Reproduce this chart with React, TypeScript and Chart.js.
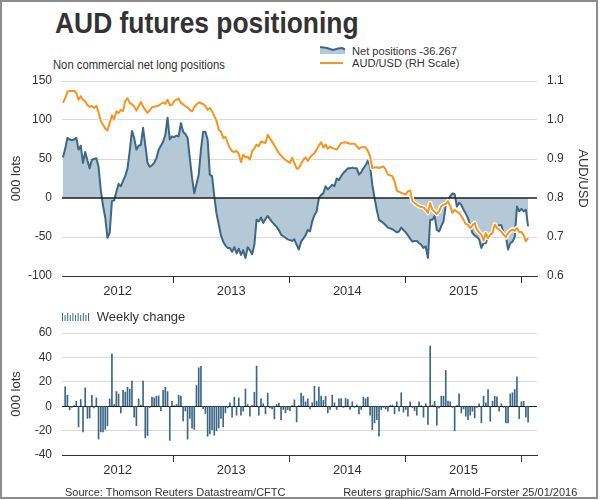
import React, { useEffect, useRef } from 'react';
import { Chart, registerables } from 'chart.js';

Chart.register(...registerables);

const FONT = "'Liberation Sans', Arial, Helvetica, sans-serif";
const TEXT = '#333333';
const NAVY = '#3d6787';
const FILL = '#b5c8d6';
const ORANGE = '#f7941d';
const GRID = '#d9d9d9';

// Non commercial net long positions, 000 lots (weekly, from 20 Jan 2012)
const netPositions = [
  52, 63, 77, 75, 74, 75, 77, 62, 67, 45,
  59, 48, 38, 49, 50, 51, 40, 10, -10, -25,
  -51, -45, -4, -3, 8, 18, 15, 22, 28, 38,
  60, 86, 77, 62, 67, 68, 90, 68, 45, 40,
  42, 45, 51, 62, 67, 72, 81, 103, 75, 79,
  78, 80, 79, 96, 85, 82, 77, 51, 26, 6,
  18, 30, 62, 85, 85, 75, 30, 28, 2, -20,
  -34, -48, -56, -61, -64, -64, -69, -63, -71, -65,
  -73, -67, -77, -63, -67, -72, -60, -28, -30, -25,
  -32, -27, -23, -27, -31, -34, -37, -41, -47, -49,
  -51, -53, -54, -55, -53, -60, -66, -56, -52, -48,
  -41, -43, -30, -22, -17, 0, 4, 6, 15, 11,
  14, 17, 15, 25, 23, 28, 32, 35, 38, 38,
  39, 38, 38, 30, 33, 38, 42, 48, 41, 17,
  0, -15, -28, -30, -32, -35, -38, -39, -40, -42,
  -44, -43, -38, -41, -44, -48, -52, -56, -55, -55,
  -58, -60, -64, -62, -77, -28, -28, -23, -41, -43,
  -36, -30, -9, -3, 2, 6, 5, -11, -6, -9,
  -15, -20, -26, -36, -45, -48, -50, -53, -64, -58,
  -58, -50, -47, -45, -40, -36, -35, -35, -45, -49,
  -66, -58, -56, -50, -11, -17, -14, -17, -15, -36.267,
];

// AUD/USD (RH scale), same weeks
const audUsd = [
  1.044, 1.056, 1.072, 1.075, 1.074, 1.075, 1.069, 1.052, 1.061, 1.052,
  1.048, 1.038, 1.034, 1.036, 1.031, 1.036, 1.020, 0.997, 0.988, 0.978,
  0.973, 0.992, 1.012, 1.001, 1.022, 1.018, 1.026, 1.023, 1.049, 1.056,
  1.044, 1.040, 1.035, 1.024, 1.035, 1.046, 1.035, 1.026, 1.018, 1.025,
  1.033, 1.034, 1.035, 1.037, 1.041, 1.045, 1.041, 1.052, 1.038, 1.039,
  1.049, 1.052, 1.055, 1.044, 1.040, 1.035, 1.033, 1.026, 1.022, 1.033,
  1.040, 1.045, 1.043, 1.041, 1.036, 1.026, 1.031, 1.022, 1.010, 0.998,
  0.975, 0.970, 0.954, 0.957, 0.941, 0.928, 0.920, 0.918, 0.921, 0.913,
  0.892, 0.911, 0.904, 0.906, 0.898, 0.920, 0.927, 0.937, 0.933, 0.945,
  0.943, 0.941, 0.962, 0.953, 0.944, 0.935, 0.925, 0.915, 0.909, 0.902,
  0.898, 0.894, 0.890, 0.903, 0.890, 0.875, 0.877, 0.887, 0.898, 0.904,
  0.895, 0.904, 0.910, 0.915, 0.924, 0.935, 0.943, 0.929, 0.937, 0.926,
  0.932, 0.928, 0.926, 0.924, 0.932, 0.941, 0.942, 0.943, 0.941, 0.939,
  0.939, 0.939, 0.933, 0.926, 0.930, 0.930, 0.930, 0.920, 0.907, 0.877,
  0.878, 0.879, 0.877, 0.879, 0.881, 0.873, 0.860, 0.858, 0.856, 0.843,
  0.819, 0.816, 0.813, 0.811, 0.809, 0.817, 0.819, 0.792, 0.787, 0.783,
  0.779, 0.777, 0.776, 0.770, 0.762, 0.787, 0.770, 0.765, 0.759, 0.766,
  0.779, 0.783, 0.785, 0.792, 0.779, 0.762, 0.770, 0.765, 0.762, 0.753,
  0.744, 0.733, 0.731, 0.723, 0.730, 0.736, 0.719, 0.712, 0.706, 0.691,
  0.710, 0.697, 0.706, 0.710, 0.732, 0.723, 0.719, 0.713, 0.706, 0.699,
  0.710, 0.716, 0.719, 0.716, 0.723, 0.713, 0.713, 0.705, 0.689, 0.697,
];

// Weekly change, 000 lots (from the second week on)
const weeklyChange = [
  16, 9, -3, -1, 0.5, 4, -17, 5.5, -21, 15,
  -10, -9.6, 9, -1.4, 6.8, -27, -21, -21, -19, -16,
  6, 43, 1.4, 12, 10, -5.5, 13, 11.5, 15.6, 14,
  20.5, -9, -16, 6, 1, 20.5, -26, -24, -1, 7.4,
  6.8, 8.2, 8.5, -3.6, 13, 15.6, 12, -28, 4, 0.5,
  1.4, 9, 8.2, -12, -4, -27, -10, -18, -19, 17,
  31.5, 32.6, -2, -6, -24.6, -22.7, -19.2,
  -23.8, -20, -17.8, -10, -17, -5.5, -1.4, 2.7, -9, 7.4,
  -7.4, 6.8, -7.4, -4.1, 14.2, 1.4, -8.2, 0.5, 11.5, 32.9,
  -7.4, 6.3, 2, -6.3, 10.7, -1.4, -2.2, -10.4, 1.4, 2.5,
  -11, -2.7, -5.5, -2.7, -3.6, 0.5, 5.2, -12.9, 0.5, 10.7,
  8.2, 3.6, 6, -2.2, 2.7, 16.4, 4.1, 15.6, 8.2, 4.7,
  8.2, -5.5, -2.7, 9, 2.7, -2.7, 6, 6.3, -1, 6.3,
  5.5, -2.7, 3.6, -1, 1, -6.3, -2.7, 7.4, 6, 7.4,
  -7.4, -19.2,
  -13.7, -11, -24.6, -2.7, -1, -2.2, -4.1, 0.5, 1, -6.3,
  3.6, -4.1, 11, -4.9, -2.7, -8.2, 3.6, -1, -3.6, -7.4,
  3.6, 0.5, -9, 2, -15, 49.3, 1, 4.1, -15.6, -1.4,
  8.2, 8.2, 29.3, 4.1, 3.6, -1, -20, 0.5, 10.1, -5.5,
  -2.2, -8.2, -11, -7.4, -4.1, -9.6, -1, 2, -13.7, 8.2,
  2.7, 13.7, -12.3, 4.1, 8.2, 7.7, -4.1, 2, -1, -13.7,
  -13.7, 10.1, 11, 13.7, 24.1, -10.1, 3.6, 4.1, -9, -13.1,
];

const yearLabels = ['2012', '2013', '2014', '2015'];

const DAY = 86400000;
const WEEK = 7 * DAY;
const FIRST_WEEK = Date.UTC(2012, 0, 20);
const X_MIN = Date.UTC(2012, 0, 17);
const X_MAX = Date.UTC(2016, 1, 19);
const yearStarts = [2013, 2014, 2015, 2016].map((y) => Date.UTC(y, 0, 1));
const labelCenters = yearLabels.map((_, k) => ((k === 0 ? X_MIN : yearStarts[k - 1]) + yearStarts[k]) / 2);

function timeAxis(height: number) {
  return {
    type: 'linear',
    min: X_MIN,
    max: X_MAX,
    offset: false,
    afterBuildTicks: (s: any) => {
      s.ticks = [...yearStarts, ...labelCenters].sort((a, b) => a - b).map((v) => ({ value: v }));
    },
    afterFit: (s: any) => {
      s.height = height;
      s.paddingLeft = 0;
      s.paddingRight = 0;
    },
    ticks: {
      autoSkip: false,
      maxRotation: 0,
      minRotation: 0,
      padding: 1,
      color: TEXT,
      font: { size: 13, family: FONT },
      callback: (v: any) => {
        const k = labelCenters.indexOf(v);
        return k >= 0 ? yearLabels[k] : '';
      },
    },
    grid: {
      offset: false,
      drawOnChartArea: false,
      tickLength: 7,
      tickWidth: 1,
      tickColor: (c: any) => (c.tick && yearStarts.includes(c.tick.value) ? '#333333' : 'rgba(0,0,0,0)'),
    },
    border: { display: true, color: '#333333', width: 1 },
  };
}

function fixWidth(w: number) {
  return (s: any) => {
    s.width = w;
    s.paddingTop = 0;
    s.paddingBottom = 0;
  };
}

function zeroLine(axisId: string, datasetIndex: number) {
  return {
    id: 'zeroLine' + axisId,
    afterDatasetDraw(chart: any, args: any) {
      if (args.index !== datasetIndex) return;
      const { ctx, chartArea } = chart;
      const y = chart.scales[axisId].getPixelForValue(0);
      ctx.save();
      ctx.strokeStyle = '#1e1e1e';
      ctx.lineWidth = 1.3;
      ctx.beginPath();
      ctx.moveTo(chartArea.left, y);
      ctx.lineTo(chartArea.right, y);
      ctx.stroke();
      ctx.restore();
    },
  };
}

export default function App() {
  const topRef = useRef<HTMLCanvasElement>(null);
  const botRef = useRef<HTMLCanvasElement>(null);

  useEffect(() => {
    Chart.defaults.font.family = FONT;
    const netPts = netPositions.map((v, i) => ({ x: FIRST_WEEK + i * WEEK, y: v }));
    const audPts = audUsd.map((v, i) => ({ x: FIRST_WEEK + i * WEEK, y: v }));
    const chgPts = weeklyChange.map((v, i) => ({ x: FIRST_WEEK + (i + 1) * WEEK, y: v }));

    const top = new Chart(topRef.current as HTMLCanvasElement, {
      type: 'line',
      data: {
        datasets: [
          {
            label: 'AUD/USD (RH Scale)',
            data: audPts,
            yAxisID: 'y2',
            borderColor: ORANGE,
            borderWidth: 2,
            pointRadius: 0,
            fill: false,
            borderJoinStyle: 'round',
            order: 0,
          },
          {
            label: 'halo',
            data: audPts,
            yAxisID: 'y2',
            borderColor: '#ffffff',
            borderWidth: 4.5,
            pointRadius: 0,
            fill: false,
            borderJoinStyle: 'round',
            order: 1,
          },
          {
            label: 'Net positions',
            data: netPts,
            yAxisID: 'y',
            borderColor: NAVY,
            borderWidth: 2,
            backgroundColor: FILL,
            fill: 'origin',
            pointRadius: 0,
            borderJoinStyle: 'round',
            order: 2,
          },
        ],
      } as any,
      options: {
        responsive: false,
        animation: false,
        events: [],
        layout: { padding: { top: 11, left: 0, right: 0, bottom: 0 } },
        plugins: { legend: { display: false }, tooltip: { enabled: false } },
        scales: {
          x: timeAxis(34),
          y: {
            position: 'left',
            min: -100,
            max: 150,
            afterFit: fixWidth(62),
            ticks: { stepSize: 50, padding: 10, color: TEXT, font: { size: 12, family: FONT } },
            grid: {
              drawTicks: false,
              color: (c: any) => (c.tick && (c.tick.value === 0 || c.tick.value === -100) ? 'rgba(0,0,0,0)' : GRID),
            },
            border: { display: false },
            title: { display: true, text: '000 lots', color: TEXT, font: { size: 13, family: FONT }, padding: { top: 9, bottom: 0 } },
          },
          y2: {
            position: 'right',
            min: 0.6,
            max: 1.1,
            afterFit: fixWidth(63),
            ticks: {
              stepSize: 0.1,
              padding: 10,
              color: TEXT,
              font: { size: 12, family: FONT },
              callback: (v: any) => Number(v).toFixed(1),
            },
            grid: { drawOnChartArea: false, drawTicks: false },
            border: { display: false },
            title: { display: true, text: 'AUD/USD', color: TEXT, font: { size: 13, family: FONT }, padding: { top: 10, bottom: 0 } },
          },
        },
      } as any,
      plugins: [zeroLine('y', 2)],
    });

    const bot = new Chart(botRef.current as HTMLCanvasElement, {
      type: 'bar',
      data: {
        datasets: [
          {
            label: 'Weekly change',
            data: chgPts,
            backgroundColor: NAVY,
            borderWidth: 0,
            barThickness: 1,
          },
        ],
      } as any,
      options: {
        responsive: false,
        animation: false,
        events: [],
        layout: { padding: { top: 11, left: 0, right: 63, bottom: 0 } },
        plugins: { legend: { display: false }, tooltip: { enabled: false } },
        scales: {
          x: timeAxis(35),
          y: {
            position: 'left',
            min: -40,
            max: 60,
            afterFit: fixWidth(62),
            ticks: { stepSize: 20, padding: 10, color: TEXT, font: { size: 12, family: FONT } },
            grid: {
              drawTicks: false,
              color: (c: any) => {
                const v = c.tick ? c.tick.value : null;
                if (v === -40) return 'rgba(0,0,0,0)';
                if (v === 0) return '#1e1e1e';
                return GRID;
              },
            },
            border: { display: false },
            title: { display: true, text: '000 lots', color: TEXT, font: { size: 13, family: FONT }, padding: { top: 9, bottom: 0 } },
          },
        },
      } as any,
    });

    return () => {
      top.destroy();
      bot.destroy();
    };
  }, []);

  const abs = (s: any) => ({ position: 'absolute', whiteSpace: 'nowrap', color: TEXT, ...s });

  return (
    <div style={{ position: 'absolute', left: 0, top: 0, width: 600, height: 500, background: '#ffffff', overflow: 'hidden', fontFamily: FONT }}>
      <div style={{ position: 'absolute', left: 0, top: 0, width: 598, height: 499, border: '2px solid #8c8c8c', boxSizing: 'border-box' }} />

      <div style={abs({ left: 55, top: 8, fontSize: 30, lineHeight: '30px', fontWeight: 'bold', transform: 'scaleX(0.88)', transformOrigin: '0 0' })}>
        AUD futures positioning
      </div>
      <div style={abs({ left: 53, top: 59.4, fontSize: 12.5, lineHeight: '12.5px', transform: 'scaleX(0.9)', transformOrigin: '0 0' })}>
        Non commercial net long positions
      </div>

      <svg style={{ position: 'absolute', left: 320, top: 45 }} width={26} height={9}>
        <polygon points="0,2 7,3 13,5 18,3.5 22,3 25,4.5 25,9 0,9" fill={FILL} />
        <polyline points="0,2 7,3 13,5 18,3.5 22,3 25,4.5" fill="none" stroke={NAVY} strokeWidth={2} />
      </svg>
      <div style={abs({ left: 351.7, top: 45.1, fontSize: 11.7, lineHeight: '11.7px', transform: 'scaleX(0.95)', transformOrigin: '0 0' })}>
        Net positions -36.267
      </div>
      <div style={{ position: 'absolute', left: 320, top: 61.7, width: 23, height: 2, background: ORANGE }} />
      <div style={abs({ left: 351.7, top: 57.4, fontSize: 11.7, lineHeight: '11.7px', transform: 'scaleX(0.95)', transformOrigin: '0 0' })}>
        AUD/USD (RH Scale)
      </div>

      <div style={{ position: 'absolute', left: 0, top: 70, width: 600, height: 240 }}>
        <canvas ref={topRef} width={600} height={240} style={{ width: 600, height: 240, display: 'block' }} />
      </div>

      <svg style={{ position: 'absolute', left: 62, top: 312 }} width={28} height={10}>
        {[0, 1, 2, 3, 4, 5, 6, 7, 8, 9, 10].map((k) => (
          <rect key={k} x={k * 2.6} y={k % 2 === 0 ? 1 : 3} width={1} height={k % 2 === 0 ? 8 : 6} fill={NAVY} />
        ))}
      </svg>
      <div style={abs({ left: 96.7, top: 309.7, fontSize: 13, lineHeight: '13px' })}>Weekly change</div>

      <div style={{ position: 'absolute', left: 0, top: 322, width: 600, height: 168 }}>
        <canvas ref={botRef} width={600} height={168} style={{ width: 600, height: 168, display: 'block' }} />
      </div>

      <div style={abs({ left: 65, top: 486.7, fontSize: 11, lineHeight: '11px' })}>Source: Thomson Reuters Datastream/CFTC</div>
      <div style={abs({ right: 22.7, top: 486.7, fontSize: 11, lineHeight: '11px' })}>Reuters graphic/Sam Arnold-Forster 25/01/2016</div>
    </div>
  );
}
